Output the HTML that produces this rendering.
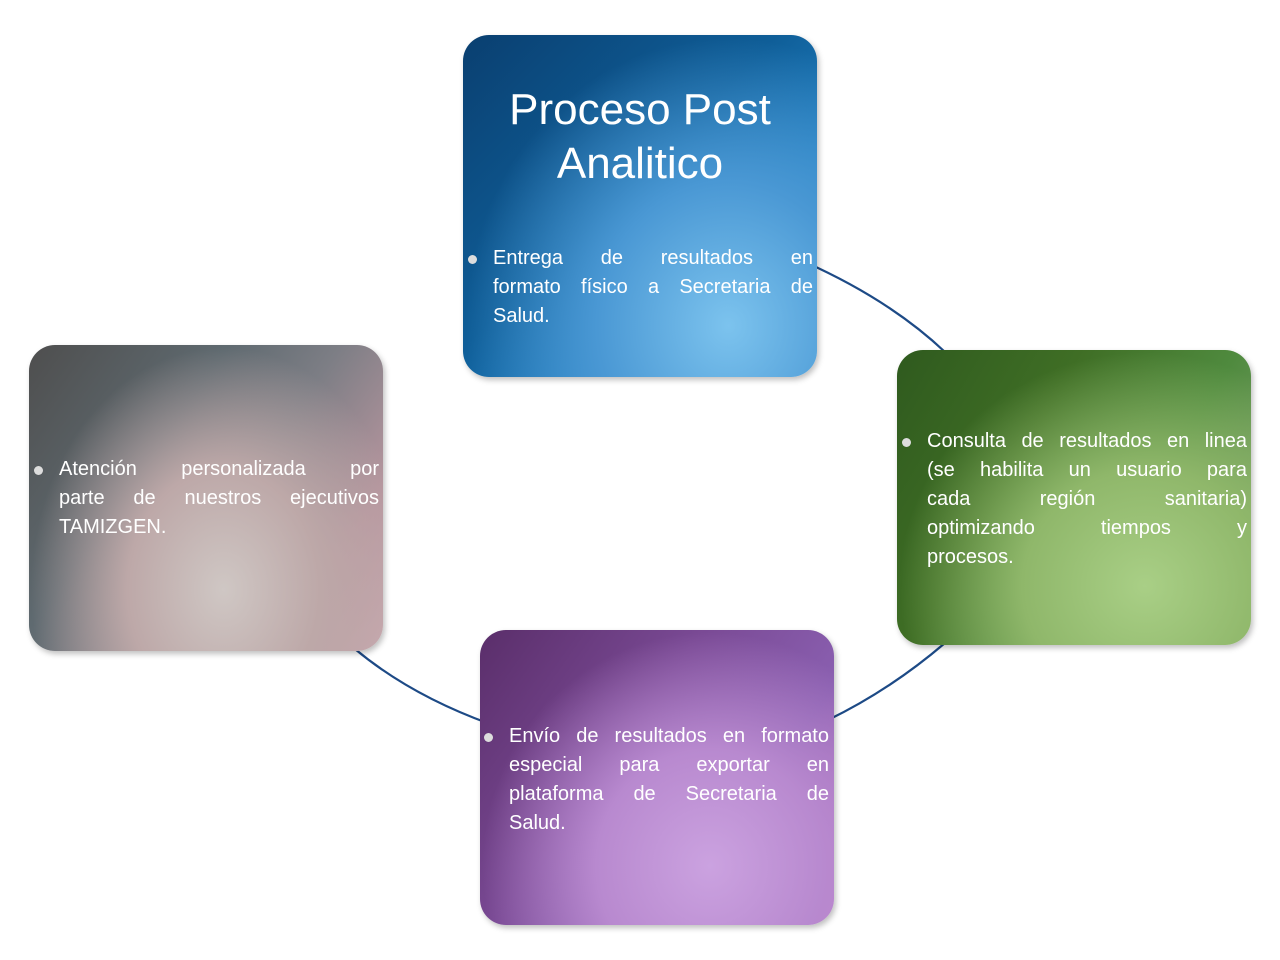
<!DOCTYPE html>
<html><head><meta charset="utf-8"><style>
body{margin:0;width:1280px;height:960px;background:#fff;position:relative;overflow:hidden;font-family:"Liberation Sans",sans-serif;}
.box{position:absolute;border-radius:26px;box-shadow:2px 3px 6px rgba(0,0,0,0.25);color:#fff;box-sizing:border-box;overflow:hidden}
.txt{position:absolute;font-size:20px;line-height:29px;}
.txt div{text-align:justify;text-align-last:justify;white-space:nowrap;display:flex;justify-content:space-between}
.txt div.l{justify-content:flex-start}
.txt:before{content:"";position:absolute;left:-25px;top:11px;width:9px;height:9px;border-radius:50%;background:#ddd}
h1{position:absolute;margin:0;font-weight:normal;font-size:44px;line-height:54px;text-align:center;left:0;right:0;top:48px;color:#fff}
</style></head><body>
<svg width="1280" height="960" style="position:absolute;left:0;top:0">
<g fill="none" stroke="#1d4a86" stroke-width="2.2">
<path d="M805 262 Q890 300 945 352"/>
<path d="M945 643 Q890 690 828 720"/>
<path d="M490 724 Q410 695 355 649"/>
</g></svg>
<div class="box" style="left:463px;top:35px;width:354px;height:342px;background:radial-gradient(ellipse at 75% 85%,#7cc3ee 0%,#4a98d4 35%,rgba(40,110,180,0) 70%),linear-gradient(135deg,#0a3f70 0%,#0f5e98 45%,#1f7ec0 70%,#2d75b8 100%)">
<h1>Proceso Post<br>Analitico</h1>
<div class="txt" style="left:30px;top:209px;width:320px">
<div><span>Entrega</span><span>de</span><span>resultados</span><span>en</span></div>
<div><span>formato</span><span>físico</span><span>a</span><span>Secretaria</span><span>de</span></div>
<div class="l">Salud.</div></div>
</div>
<div class="box" style="left:897px;top:350px;width:354px;height:295px;background:radial-gradient(ellipse at 70% 80%,#a9cf86 0%,#8fb76a 35%,rgba(110,150,70,0) 70%),linear-gradient(120deg,#2f5a1e 0%,#3f6e25 35%,#4f8a3e 65%,#8aa77a 100%)">
<div class="txt" style="left:30px;top:77px;width:320px">
<div><span>Consulta</span><span>de</span><span>resultados</span><span>en</span><span>linea</span></div>
<div><span>(se</span><span>habilita</span><span>un</span><span>usuario</span><span>para</span></div>
<div><span>cada</span><span>región</span><span>sanitaria)</span></div>
<div><span>optimizando</span><span>tiempos</span><span>y</span></div>
<div class="l">procesos.</div></div>
</div>
<div class="box" style="left:480px;top:630px;width:354px;height:295px;background:radial-gradient(ellipse at 65% 80%,#cba2e0 0%,#b889cf 35%,rgba(150,100,190,0) 70%),linear-gradient(125deg,#5a2e6a 0%,#7a4a95 40%,#8a5fb0 70%,#c57ec8 100%)">
<div class="txt" style="left:29px;top:92px;width:320px">
<div><span>Envío</span><span>de</span><span>resultados</span><span>en</span><span>formato</span></div>
<div><span>especial</span><span>para</span><span>exportar</span><span>en</span></div>
<div><span>plataforma</span><span>de</span><span>Secretaria</span><span>de</span></div>
<div class="l">Salud.</div></div>
</div>
<div class="box" style="left:29px;top:345px;width:354px;height:306px;background:radial-gradient(ellipse at 55% 80%,#cfc7c4 0%,#bda8a8 35%,rgba(180,150,150,0) 70%),linear-gradient(125deg,#4e4e4e 0%,#5f6a70 35%,#7d7e85 55%,#b6959e 80%,#c9a9b0 100%)">
<div class="txt" style="left:30px;top:110px;width:320px">
<div><span>Atención</span><span>personalizada</span><span>por</span></div>
<div><span>parte</span><span>de</span><span>nuestros</span><span>ejecutivos</span></div>
<div class="l">TAMIZGEN.</div></div>
</div>
</body></html>
